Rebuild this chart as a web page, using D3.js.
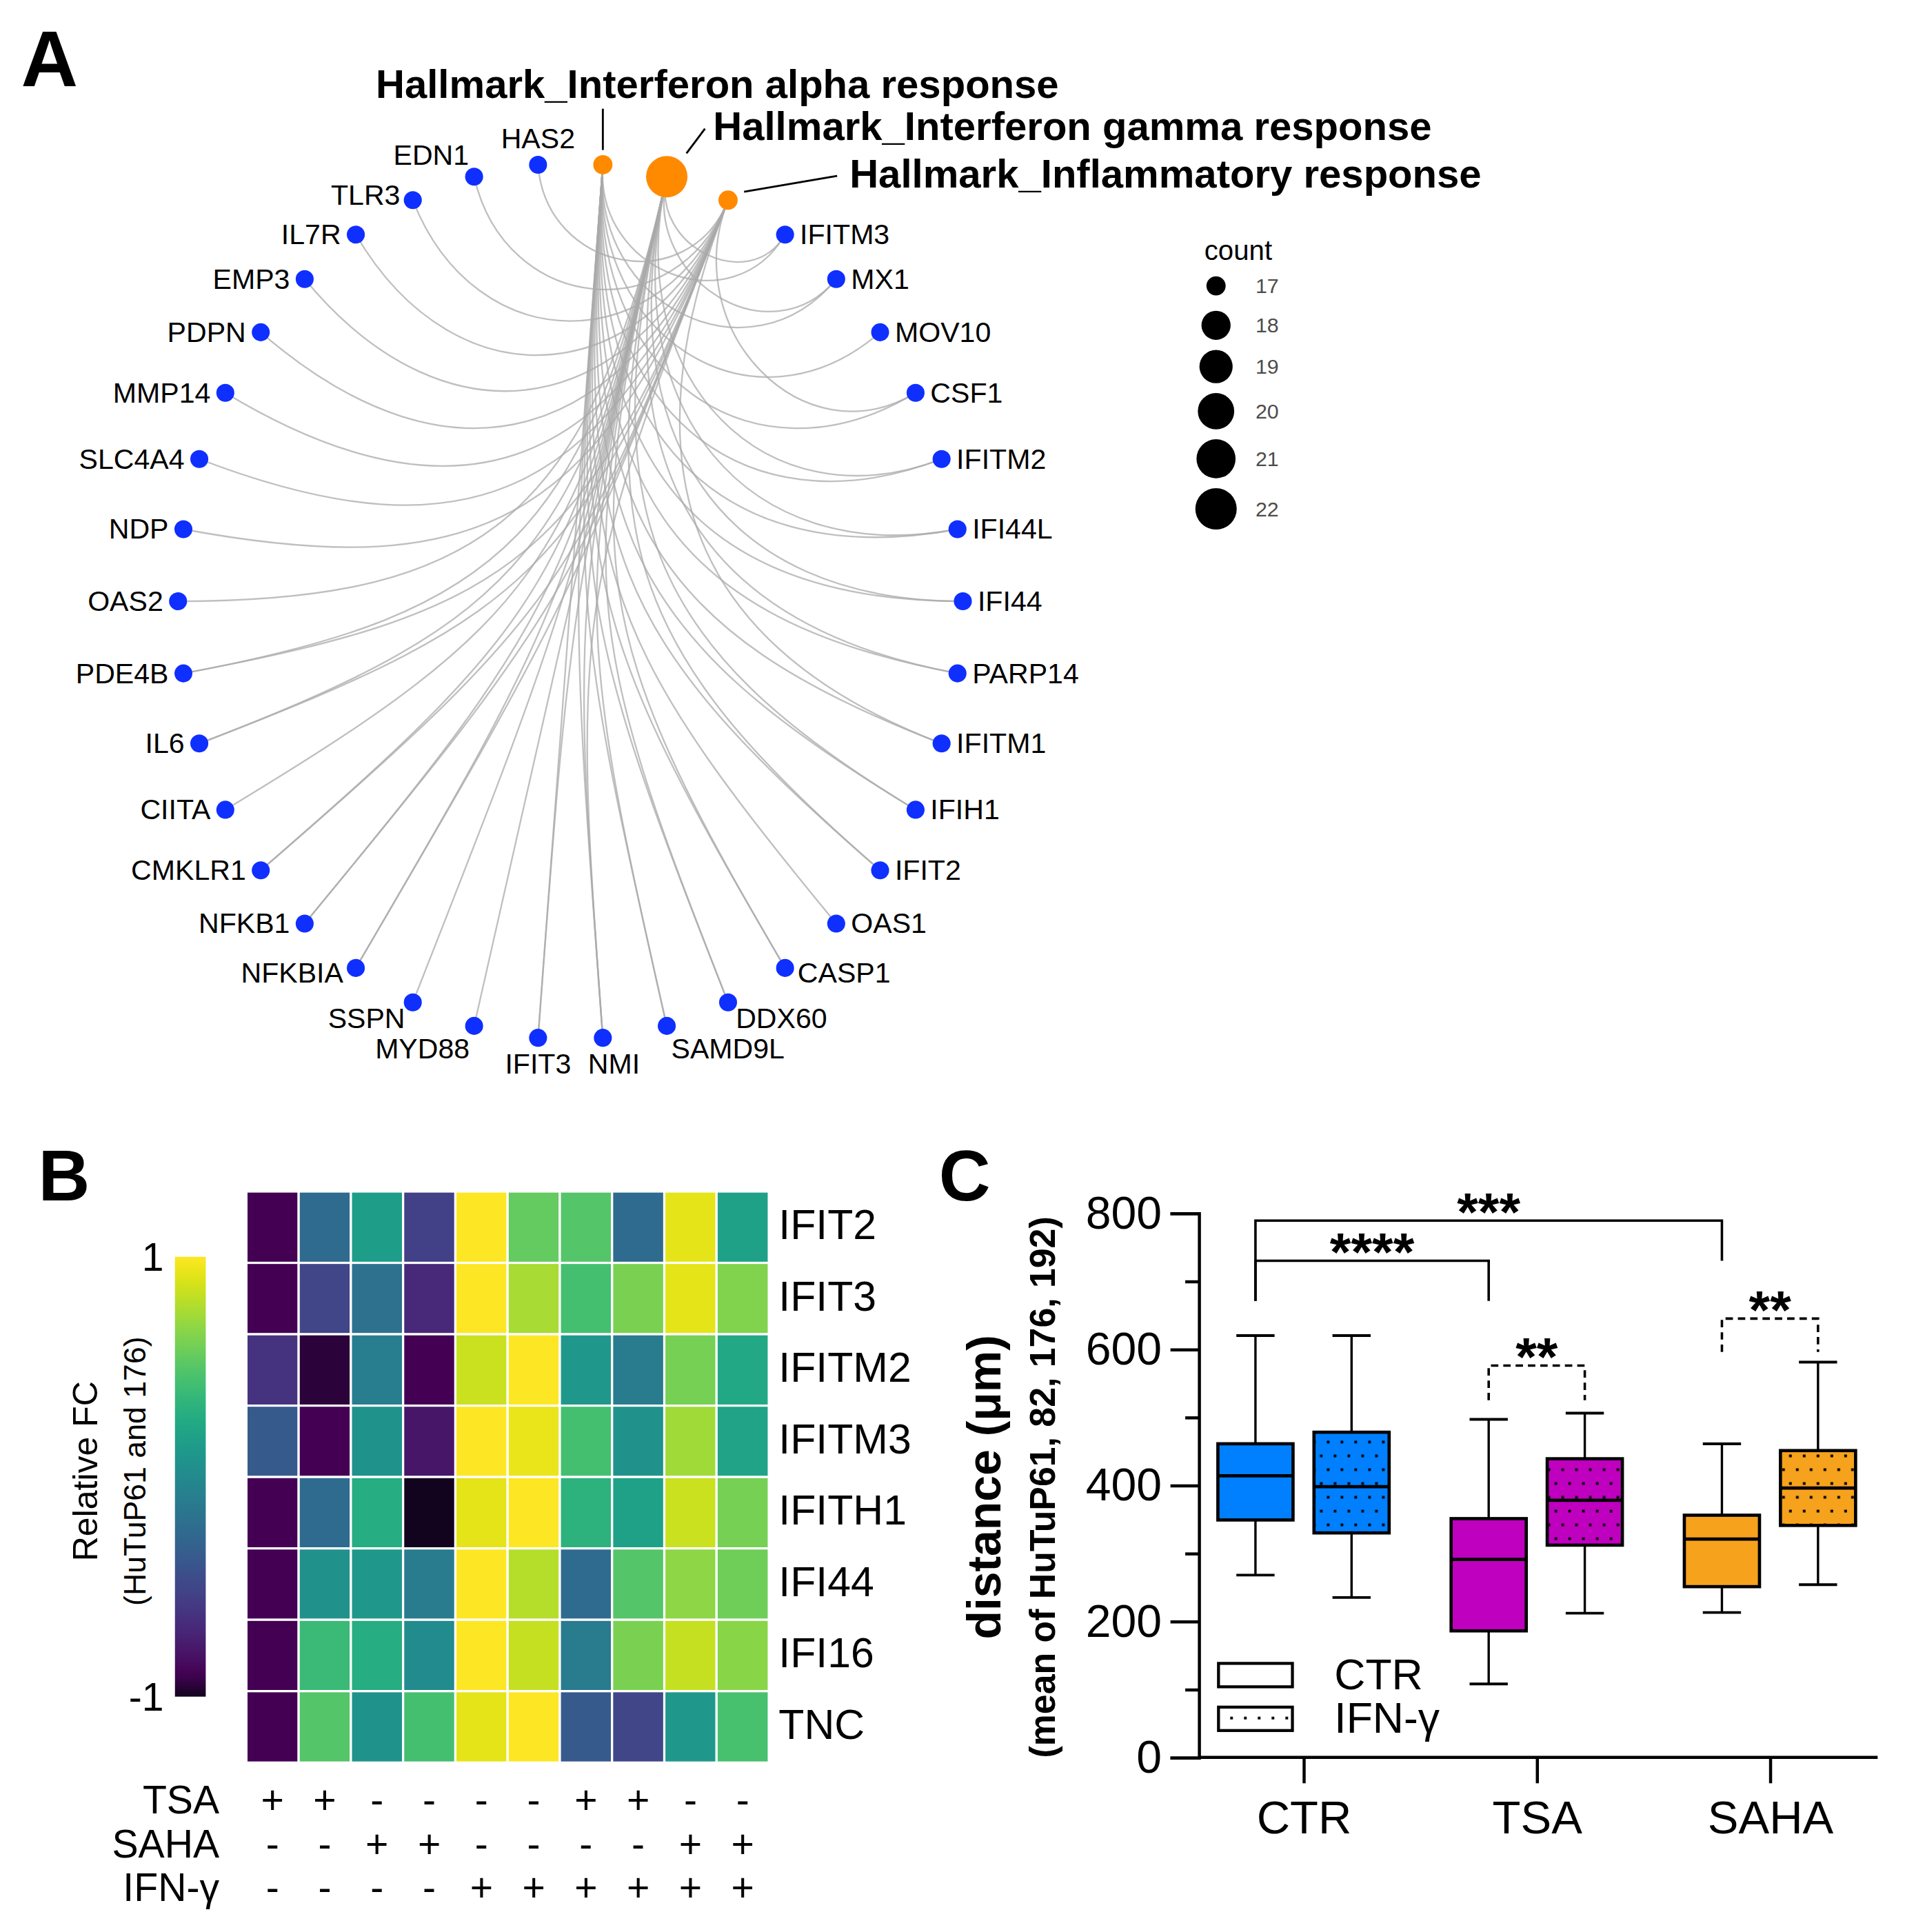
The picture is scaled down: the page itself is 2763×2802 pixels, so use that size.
<!DOCTYPE html>
<html>
<head>
<meta charset="utf-8">
<script src="https://cdn.jsdelivr.net/npm/d3@7"></script>
<style>
  body { margin: 0; background: #fff; }
  svg { display: block; font-family: 'Liberation Sans', Arial, sans-serif; }
</style>
</head>
<body>
<div class="canvas"></div>
<script>
// ---------- panel A data: gene sets around the ring ----------
const hallmarks = ['Hallmark_Interferon alpha response', 'Hallmark_Interferon gamma response', 'Hallmark_Inflammatory response'];
const ringGenes = ['IFITM3', 'MX1', 'MOV10', 'CSF1', 'IFITM2', 'IFI44L', 'IFI44', 'PARP14', 'IFITM1', 'IFIH1',
  'IFIT2', 'OAS1', 'CASP1', 'DDX60', 'SAMD9L', 'NMI', 'IFIT3', 'MYD88', 'SSPN', 'NFKBIA', 'NFKB1', 'CMKLR1',
  'CIITA', 'IL6', 'PDE4B', 'OAS2', 'NDP', 'SLC4A4', 'MMP14', 'PDPN', 'EMP3', 'IL7R', 'TLR3', 'EDN1', 'HAS2'];
const alphaGenes = ['CASP1', 'CSF1', 'DDX60', 'IFI44', 'IFI44L', 'IFIH1', 'IFIT2', 'IFIT3', 'IFITM1', 'IFITM2',
  'IFITM3', 'MOV10', 'MX1', 'NMI', 'OAS1', 'PARP14', 'SAMD9L'];
const gammaGenes = ['CASP1', 'CIITA', 'CMKLR1', 'DDX60', 'IFI44', 'IFI44L', 'IFIH1', 'IFIT2', 'IFIT3', 'IFITM2',
  'IFITM3', 'IL6', 'MX1', 'MYD88', 'NFKB1', 'NFKBIA', 'NMI', 'OAS2', 'PARP14', 'PDE4B', 'SAMD9L', 'SSPN'];
const inflamGenes = ['CMKLR1', 'CSF1', 'EDN1', 'EMP3', 'HAS2', 'IFITM1', 'IL6', 'IL7R', 'MMP14', 'NDP', 'NFKB1',
  'NFKBIA', 'NMI', 'PDE4B', 'PDPN', 'SLC4A4', 'TLR3'];
const countBreaks = [17, 18, 19, 20, 21, 22];

// ---------- panel B data: relative fold change heatmap ----------
const hmGenes = ['IFIT2', 'IFIT3', 'IFITM2', 'IFITM3', 'IFITH1', 'IFI44', 'IFI16', 'TNC'];
const fcIFIT2  = [-0.90, -0.24, 0.15, -0.54, 1.00, 0.54, 0.49, -0.24, 0.92, 0.18];
const fcIFIT3  = [-0.90, -0.50, -0.20, -0.69, 1.00, 0.75, 0.43, 0.62, 0.92, 0.64];
const fcIFITM2 = [-0.62, -0.95, -0.10, -0.90, 0.85, 1.00, 0.11, -0.12, 0.60, 0.24];
const fcIFITM3 = [-0.37, -0.90, 0.07, -0.79, 1.00, 0.94, 0.43, 0.05, 0.73, 0.20];
const fcIFITH1 = [-0.90, -0.24, 0.28, -1.00, 0.92, 1.00, 0.32, 0.18, 0.85, 0.60];
const fcIFI44  = [-0.90, 0.05, 0.11, -0.12, 1.00, 0.79, -0.24, 0.49, 0.68, 0.58];
const fcIFI16  = [-0.90, 0.39, 0.28, 0.01, 1.00, 0.83, -0.12, 0.62, 0.83, 0.66];
const fcTNC    = [-0.90, 0.49, 0.07, 0.43, 0.92, 1.00, -0.37, -0.50, 0.11, 0.45];
const fcRows = [fcIFIT2, fcIFIT3, fcIFITM2, fcIFITM3, fcIFITH1, fcIFI44, fcIFI16, fcTNC];
const annoNames = ['TSA', 'SAHA', 'IFN-γ'];
const annoTSA  = ['+', '+', '-', '-', '-', '-', '+', '+', '-', '-'];
const annoSAHA = ['-', '-', '+', '+', '-', '-', '-', '-', '+', '+'];
const annoIFN  = ['-', '-', '-', '-', '+', '+', '+', '+', '+', '+'];
const colorTicks = [1, -1];

// ---------- panel C data: distance box plots ----------
const treatments = ['CTR', 'TSA', 'SAHA'];
const conditions = ['CTR', 'IFN-γ'];
// [min, q1, median, q3, max] per treatment, CTR then IFN-γ
const boxCTR  = [[268, 349, 414, 461, 620], [235, 330, 398, 478, 620]];
const boxTSA  = [[108, 186, 291, 351, 497], [212, 312, 378, 439, 506]];
const boxSAHA = [[213, 251, 321, 356, 461], [254, 341, 396, 451, 581]];
const yTicks = [0, 200, 400, 600, 800];
const yMinorTicks = [100, 300, 500, 700];
// significance: [box a, box b, bar height, leg end a, leg end b, label, dashed]
const sigBars = [
  [['CTR', 'CTR'], ['TSA', 'CTR'], 730, 671, 671, '****', false],
  [['CTR', 'CTR'], ['SAHA', 'CTR'], 789, 671, 730, '***', false],
  [['TSA', 'CTR'], ['TSA', 'IFN-γ'], 576, 525, 525, '**', true],
  [['SAHA', 'CTR'], ['SAHA', 'IFN-γ'], 645, 596, 596, '**', true]
];

// ---------- canvas (drawn in a 1546 x 1568 frame, scaled to the page) ----------
const W = 1546.2, H = 1568;
const svg = d3.select('.canvas')
  .append('svg')
    .attr('width', 2763)
    .attr('height', 2802)
    .attr('viewBox', `0 0 ${W} ${H}`);

svg.append('rect').attr('width', W).attr('height', H).attr('fill', '#fff');

const defs = svg.append('defs');

// panel letters
const letters = [['A', 17, 70, 64], ['B', 31, 974, 58], ['C', 762, 974, 58]];
svg.selectAll('.panel-letter')
  .data(letters)
  .enter()
  .append('text')
    .attr('class', 'panel-letter')
    .attr('x', d => d[1])
    .attr('y', d => d[2])
    .attr('font-size', d => d[3])
    .attr('font-weight', 'bold')
    .text(d => d[0]);

// =================== panel A ===================
const ring = {cx: 463, cy: 488, rx: 318.5, ry: 355.5};
const nodes = hallmarks.map((h, i) => ({name: h, hub: true, i}))
  .concat(ringGenes.map((g, i) => ({name: g, hub: false, i: i + hallmarks.length})));
const nTotal = nodes.length;
const theta = i => (i + 0.5) / nTotal * 2 * Math.PI;   // clockwise from top
nodes.forEach(d => { d.ux = Math.sin(theta(d.i)); d.uy = Math.cos(theta(d.i)); });

const xA = d3.scaleLinear().domain([-1, 1]).range([ring.cx - ring.rx, ring.cx + ring.rx]);
const yA = d3.scaleLinear().domain([-1, 1]).range([ring.cy + ring.ry, ring.cy - ring.ry]);

const setLists = [alphaGenes, gammaGenes, inflamGenes];
const byName = new Map(nodes.map(d => [d.name, d]));
const edges = [];
setLists.forEach((list, k) => list.forEach(g => edges.push({source: nodes[k], target: byName.get(g)})));
nodes.forEach((d, k) => { if (d.hub) d.count = setLists[k].length; });

// node size scale (area-like, as ggplot scale_size)
const sizeT = d3.scaleLinear().domain([17, 22]).range([0, 1]).clamp(true);
const sizeR = d3.scaleLinear().domain([0, 1]).range([7.8, 16.8]);
const radius = c => sizeR(Math.sqrt(sizeT(c)));

// arcs bending toward the centre (ggraph circular arc)
const arcPath = e => {
  const a = e.source, b = e.target;
  const half = Math.hypot(b.ux - a.ux, b.uy - a.uy) / 2;
  const p = d3.path();
  p.moveTo(xA(a.ux), yA(a.uy));
  p.bezierCurveTo(xA(a.ux * (1 - half)), yA(a.uy * (1 - half)),
                  xA(b.ux * (1 - half)), yA(b.uy * (1 - half)),
                  xA(b.ux), yA(b.uy));
  return p.toString();
};

const gA = svg.append('g');
gA.append('g')
  .selectAll('path')
  .data(edges)
  .enter()
  .append('path')
    .attr('d', arcPath)
    .attr('fill', 'none')
    .attr('stroke', '#a9a9a9')
    .attr('stroke-opacity', 0.75)
    .attr('stroke-width', 1.3);

gA.append('g')
  .selectAll('circle')
  .data(nodes)
  .enter()
  .append('circle')
    .attr('cx', d => xA(d.ux))
    .attr('cy', d => yA(d.uy))
    .attr('r', d => d.hub ? radius(d.count) : 7.3)
    .attr('fill', d => d.hub ? '#ff8a00' : '#0f2fff');

// gene labels, pushed outward like ggrepel
const geneLabel = gA.append('g')
  .attr('font-size', 23)
  .selectAll('text')
  .data(nodes.filter(d => !d.hub))
  .enter()
  .append('text')
    .attr('dominant-baseline', 'central')
    .text(d => d.name);

geneLabel.each(function(d) {
  const s = d.ux, c = d.uy;
  const x = xA(s), y = yA(c);
  const t = d3.select(this);
  if (Math.abs(s) < 0.12) {
    t.attr('text-anchor', 'middle')
      .attr('x', x + (s > 0 ? 9 : 0))
      .attr('y', c > 0 ? y - 21 : y + 21);
  } else {
    let dy = 0;
    if (c > 0.9) dy = -(c - 0.9) * 250;
    if (c < -0.8) dy = (-c - 0.8) * 110;
    const gap = 12 - Math.abs(dy) * 0.45;
    t.attr('text-anchor', s < 0 ? 'end' : 'start')
      .attr('x', s < 0 ? x - gap : x + gap)
      .attr('y', y + dy);
  }
});

// hub labels with leader segments
const hubNudge = [
  {dx: -184.3, dy: -54, seg: [[0, -12], [0, -45.5]]},
  {dx: 37.6, dy: -30, seg: [[16, -19], [31, -39]]},
  {dx: 98.6, dy: -10.4, seg: [[13, -6.8], [88.5, -19.7]]}
];
const hubs = nodes.filter(d => d.hub);
gA.append('g')
  .selectAll('line')
  .data(hubs)
  .enter()
  .append('line')
    .attr('x1', (d, i) => xA(d.ux) + hubNudge[i].seg[0][0])
    .attr('y1', (d, i) => yA(d.uy) + hubNudge[i].seg[0][1])
    .attr('x2', (d, i) => xA(d.ux) + hubNudge[i].seg[1][0])
    .attr('y2', (d, i) => yA(d.uy) + hubNudge[i].seg[1][1])
    .attr('stroke', '#000')
    .attr('stroke-width', 1.6);
gA.append('g')
  .selectAll('text')
  .data(hubs)
  .enter()
  .append('text')
    .attr('x', (d, i) => xA(d.ux) + hubNudge[i].dx)
    .attr('y', (d, i) => yA(d.uy) + hubNudge[i].dy)
    .attr('font-size', 32.5)
    .attr('font-weight', 'bold')
    .text(d => d.name);

// size legend
const legA = svg.append('g').attr('transform', 'translate(987, 0)');
legA.append('text')
  .attr('x', 18).attr('y', 211)
  .attr('text-anchor', 'middle')
  .attr('font-size', 22.5)
  .text('count');
let keyY = 216;
countBreaks.forEach(c => {
  const h = Math.max(32, 2 * radius(c) + 8);
  const yc = keyY + h / 2;
  keyY += h;
  legA.append('circle').attr('cx', 0).attr('cy', yc).attr('r', radius(c)).attr('fill', '#000');
  legA.append('text')
    .attr('x', 32).attr('y', yc)
    .attr('dominant-baseline', 'central')
    .attr('font-size', 17)
    .attr('fill', '#4d4d4d')
    .text(c);
});

// =================== panel B ===================
const vMin = -0.9;
const fcColor = v => v >= vMin
  ? d3.interpolateViridis((v - vMin) / (1 - vMin))
  : d3.interpolateRgb('#12041e', '#440154')((v + 1) / (vMin + 1));

const cols = d3.range(fcRows[0].length);
const xB = d3.scaleBand().domain(cols).range([200, 624]);
const yB = d3.scaleBand().domain(hmGenes).range([967, 1430.5]);

const cells = [];
fcRows.forEach((row, r) => row.forEach((v, c) => cells.push({gene: hmGenes[r], col: c, v})));

const gB = svg.append('g');
gB.selectAll('rect')
  .data(cells)
  .enter()
  .append('rect')
    .attr('x', d => xB(d.col))
    .attr('y', d => yB(d.gene))
    .attr('width', xB.bandwidth())
    .attr('height', yB.bandwidth())
    .attr('fill', d => fcColor(d.v))
    .attr('stroke', '#fff')
    .attr('stroke-width', 1.8);

gB.append('g')
  .selectAll('text')
  .data(hmGenes)
  .enter()
  .append('text')
    .attr('x', 632)
    .attr('y', d => yB(d) + yB.bandwidth() / 2 - 2)
    .attr('dominant-baseline', 'central')
    .attr('font-size', 34)
    .text(d => d);

// colour bar
const cbar = {x: 142, w: 25, top: 1020, bottom: 1377};
const grad = defs.append('linearGradient')
  .attr('id', 'fcgrad')
  .attr('x1', 0).attr('y1', 1).attr('x2', 0).attr('y2', 0);
d3.range(0, 1.0001, 0.02).forEach(t => {
  grad.append('stop').attr('offset', t).attr('stop-color', fcColor(-1 + 2 * t));
});
gB.append('rect')
  .attr('x', cbar.x).attr('y', cbar.top)
  .attr('width', cbar.w).attr('height', cbar.bottom - cbar.top)
  .attr('fill', 'url(#fcgrad)');
const yCbar = d3.scaleLinear().domain([-1, 1]).range([cbar.bottom, cbar.top]);
gB.append('g')
  .selectAll('text')
  .data(colorTicks)
  .enter()
  .append('text')
    .attr('x', 133)
    .attr('y', d => yCbar(d))
    .attr('text-anchor', 'end')
    .attr('dominant-baseline', 'central')
    .attr('font-size', 32)
    .text(d => d);
gB.append('text')
  .attr('transform', 'translate(79, 1194) rotate(-90)')
  .attr('text-anchor', 'middle')
  .attr('font-size', 28)
  .text('Relative FC');
gB.append('text')
  .attr('transform', 'translate(118, 1194) rotate(-90)')
  .attr('text-anchor', 'middle')
  .attr('font-size', 25)
  .text('(HuTuP61 and 176)');

// treatment annotation below the heatmap
const annoRows = [annoTSA, annoSAHA, annoIFN];
const annoY = [1471.7, 1507.5, 1543];
annoRows.forEach((row, r) => {
  gB.append('text')
    .attr('x', 178).attr('y', annoY[r])
    .attr('text-anchor', 'end')
    .attr('font-size', 32)
    .text(annoNames[r]);
  gB.append('g')
    .selectAll('text')
    .data(row)
    .enter()
    .append('text')
      .attr('x', (d, i) => xB(i) + xB.bandwidth() / 2)
      .attr('y', annoY[r])
      .attr('text-anchor', 'middle')
      .attr('font-size', 32)
      .text(d => d);
});

// =================== panel C ===================
const plotC = {left: 973, right: 1524, top: 984.6, bottom: 1426.3};
const yC = d3.scaleLinear().domain([0, 800]).range([plotC.bottom, plotC.top]);
const xC = d3.scalePoint().domain(treatments).range([1058, 1436.6]);
const xSub = d3.scalePoint().domain(conditions).range([-39, 39]);
const boxW = 61;
const fills = {CTR: '#0080ff', TSA: '#bf00bf', SAHA: '#f6a21d'};

// dotted pattern for IFN-γ boxes
const dots = defs.append('pattern')
  .attr('id', 'dots')
  .attr('patternUnits', 'userSpaceOnUse')
  .attr('width', 11.2).attr('height', 22.4);
dots.append('rect').attr('x', 1.7).attr('y', 4.5).attr('width', 2.2).attr('height', 2.2).attr('fill', '#000');
dots.append('rect').attr('x', 7.3).attr('y', 15.7).attr('width', 2.2).attr('height', 2.2).attr('fill', '#000');

const boxData = [];
[boxCTR, boxTSA, boxSAHA].forEach((pair, t) => pair.forEach((s, c) => boxData.push({
  treat: treatments[t], cond: conditions[c], min: s[0], q1: s[1], med: s[2], q3: s[3], max: s[4]
})));
const bx = d => xC(d.treat) + xSub(d.cond);

const gC = svg.append('g');

const boxes = gC.selectAll('.box')
  .data(boxData)
  .enter()
  .append('g')
    .attr('class', 'box');
// whiskers and caps
boxes.append('line')
  .attr('x1', bx).attr('x2', bx)
  .attr('y1', d => yC(d.max)).attr('y2', d => yC(d.min))
  .attr('stroke', '#000').attr('stroke-width', 1.9);
['min', 'max'].forEach(k => {
  boxes.append('line')
    .attr('x1', d => bx(d) - 15.5).attr('x2', d => bx(d) + 15.5)
    .attr('y1', d => yC(d[k])).attr('y2', d => yC(d[k]))
    .attr('stroke', '#000').attr('stroke-width', 2.2);
});
// boxes
boxes.append('rect')
  .attr('x', d => bx(d) - boxW / 2)
  .attr('y', d => yC(d.q3))
  .attr('width', boxW)
  .attr('height', d => yC(d.q1) - yC(d.q3))
  .attr('fill', d => fills[d.treat]);
boxes.filter(d => d.cond !== 'CTR')
  .append('rect')
    .attr('x', d => bx(d) - boxW / 2)
    .attr('y', d => yC(d.q3))
    .attr('width', boxW)
    .attr('height', d => yC(d.q1) - yC(d.q3))
    .attr('fill', 'url(#dots)');
boxes.append('rect')
  .attr('x', d => bx(d) - boxW / 2)
  .attr('y', d => yC(d.q3))
  .attr('width', boxW)
  .attr('height', d => yC(d.q1) - yC(d.q3))
  .attr('fill', 'none')
  .attr('stroke', '#000').attr('stroke-width', 2.6);
boxes.append('line')
  .attr('x1', d => bx(d) - boxW / 2).attr('x2', d => bx(d) + boxW / 2)
  .attr('y1', d => yC(d.med)).attr('y2', d => yC(d.med))
  .attr('stroke', '#000').attr('stroke-width', 2.6);

// axes
const yAxisMajor = d3.axisLeft(yC).tickValues(yTicks).tickSize(23).tickPadding(7);
const yAxisMinor = d3.axisLeft(yC).tickValues(yMinorTicks).tickSize(11).tickFormat('');
const xAxisC = d3.axisBottom(xC).tickSize(21).tickPadding(14);

const yAxisGroup = gC.append('g').attr('transform', `translate(${plotC.left}, 0)`);
yAxisGroup.call(yAxisMajor);
gC.append('g').attr('transform', `translate(${plotC.left}, 0)`).call(yAxisMinor)
  .call(g => g.select('.domain').remove());
const xAxisGroup = gC.append('g').attr('transform', `translate(0, ${plotC.bottom})`);
xAxisGroup.call(xAxisC);
xAxisGroup.select('.domain').attr('d', `M${plotC.left},0H${plotC.right}`);

gC.selectAll('.domain, .tick line').attr('stroke', '#000').attr('stroke-width', 2.5);
yAxisGroup.selectAll('text').attr('font-size', 37).attr('font-family', null).attr('fill', '#000');
xAxisGroup.selectAll('text').attr('font-size', 37.5).attr('font-family', null).attr('fill', '#000');

// axis titles
gC.append('text')
  .attr('transform', 'translate(812, 1207) rotate(-90)')
  .attr('text-anchor', 'middle')
  .attr('font-size', 38)
  .attr('font-weight', 'bold')
  .text('distance (μm)');
gC.append('text')
  .attr('transform', 'translate(856, 1207) rotate(-90)')
  .attr('text-anchor', 'middle')
  .attr('font-size', 29)
  .attr('font-weight', 'bold')
  .text('(mean of HuTuP61, 82, 176, 192)');

// significance brackets
const pos = key => xC(key[0]) + xSub(key[1]);
sigBars.forEach(s => {
  const xa = pos(s[0]), xb = pos(s[1]);
  gC.append('path')
    .attr('d', `M${xa},${yC(s[3])}V${yC(s[2])}H${xb}V${yC(s[4])}`)
    .attr('fill', 'none')
    .attr('stroke', '#000')
    .attr('stroke-width', 2)
    .attr('stroke-dasharray', s[6] ? '6,4' : null);
  gC.append('text')
    .attr('x', (xa + xb) / 2)
    .attr('y', yC(s[2]) + 8)
    .attr('text-anchor', 'middle')
    .attr('font-size', 44)
    .attr('font-weight', 'bold')
    .text(s[5]);
});

// legend
const legC = gC.append('g');
conditions.forEach((c, i) => {
  const ly = 1350 + i * 35.5;
  if (c !== 'CTR') {
    legC.append('rect').attr('x', 989).attr('y', ly).attr('width', 60).attr('height', 19).attr('fill', 'url(#dots)');
  }
  legC.append('rect')
    .attr('x', 989).attr('y', ly)
    .attr('width', 60).attr('height', 19)
    .attr('fill', 'none')
    .attr('stroke', '#000').attr('stroke-width', 2.4);
  legC.append('text')
    .attr('x', 1083).attr('y', ly + 21)
    .attr('font-size', 35)
    .text(c);
});
</script>
</body>
</html>
